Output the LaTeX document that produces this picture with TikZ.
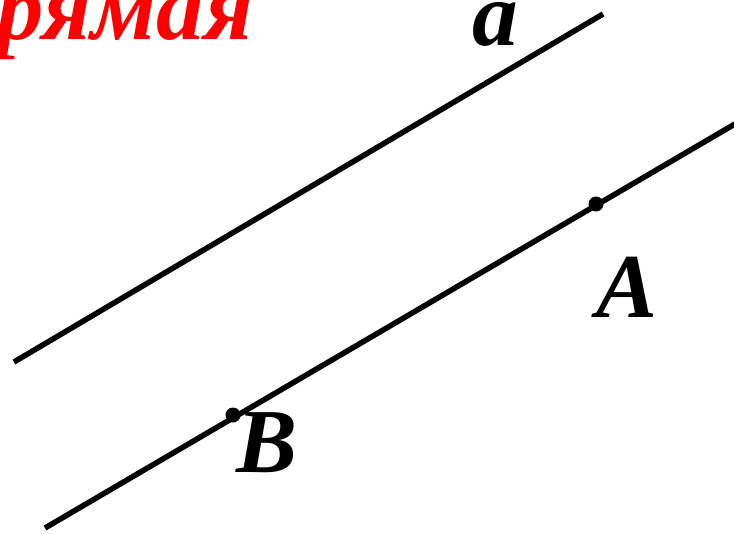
\documentclass[tikz,border=0pt]{standalone}
\usepackage{fontspec}
\setmainfont{Liberation Serif}
\usetikzlibrary{arrows.meta}

\begin{document}
\begin{tikzpicture}[x={(0.01cm,0)}, y={(0,-0.01cm)},
    every node/.style={font=\bfseries\itshape\fontsize{26}{30}\selectfont, inner sep=0pt},
    line/.style={line width=0.055cm, black},
    pt/.style={circle, fill=black, minimum size=0.15cm, inner sep=0pt}]
    \useasboundingbox (0,0) rectangle (734,533);
    \clip (0,0) rectangle (734,533);

    % Заголовок (обрезан)
    \node[anchor=base west, text=red, font=\bfseries\itshape\fontsize{27}{32}\selectfont] (title) at (-4,39) {рямая};

    % Прямая a
    \coordinate (a1) at (14,362);
    \coordinate (a2) at (603,14);
    \draw[line] (a1) -- (a2);
    \node[anchor=base] (la) at (495,45) {a};

    % Прямая через A и B
    \coordinate (b1) at (45,528);
    \coordinate (b2) at (740,121);
    \draw[line] (b1) -- (b2);

    % Точки
    \node[pt] (A) at (596,204) {};
    \node[pt] (B) at (233,415) {};
    \node[anchor=base] (lA) at (627,317) {A};
    \node[anchor=base] (lB) at (267,472) {B};
\end{tikzpicture}
\end{document}
